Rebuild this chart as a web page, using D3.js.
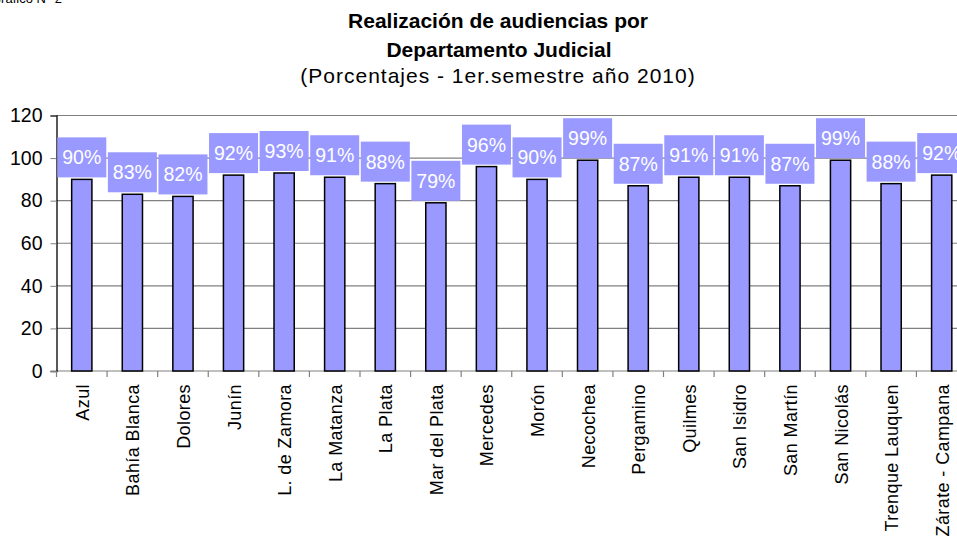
<!DOCTYPE html>
<html>
<head>
<meta charset="utf-8">
<script src="https://cdn.jsdelivr.net/npm/d3@7"></script>
<style>
  body { margin: 0; background: #fff; }
  svg { font-family: "Liberation Sans", Arial, sans-serif; }
</style>
</head>
<body>
<div id="chart"></div>
<script>
// data
var departamentos = ["Azul", "Bahía Blanca", "Dolores", "Junín", "L. de Zamora", "La Matanza",
    "La Plata", "Mar del Plata", "Mercedes", "Morón", "Necochea", "Pergamino", "Quilmes",
    "San Isidro", "San Martín", "San Nicolás", "Trenque Lauquen", "Zárate - Campana"];
var porcentajes = [90, 83, 82, 92, 93, 91, 88, 79, 96, 90, 99, 87, 91, 91, 87, 99, 88, 92];
var yTicks = [0, 20, 40, 60, 80, 100, 120];

var svgWidth = 957;
var svgHeight = 537;
var margin = {top: 115.5, right: -10, bottom: 166, left: 56.5};
var chartWidth = svgWidth - margin.left - margin.right;
var chartHeight = svgHeight - margin.top - margin.bottom;

var svg = d3.select("#chart").append("svg")
    .attr("width", svgWidth)
    .attr("height", svgHeight);

// header
svg.append("text").attr("x", -9).attr("y", 3)
    .attr("font-size", "13px").text("Gráfico N° 2");
svg.append("text").attr("x", 498).attr("y", 28)
    .attr("text-anchor", "middle").attr("font-size", "21px").attr("font-weight", "bold")
    .text("Realización de audiencias por");
svg.append("text").attr("x", 499).attr("y", 56.5)
    .attr("text-anchor", "middle").attr("font-size", "21px").attr("font-weight", "bold")
    .text("Departamento Judicial");
svg.append("text").attr("x", 498).attr("y", 83)
    .attr("text-anchor", "middle").attr("font-size", "21px").attr("letter-spacing", "1px")
    .text("(Porcentajes - 1er.semestre año 2010)");

var chartGroup = svg.append("g")
    .attr("transform", `translate(${margin.left}, ${margin.top})`);

var xScale = d3.scaleBand()
    .domain(departamentos)
    .range([0, chartWidth])
    .paddingInner(0.6)
    .paddingOuter(0.3);

var yScale = d3.scaleLinear()
    .domain([0, 120])
    .range([chartHeight, 0]);

// gridlines
chartGroup.selectAll(".grid")
    .data(yTicks)
    .enter().append("line")
    .attr("x1", 0).attr("x2", chartWidth)
    .attr("y1", d => yScale(d)).attr("y2", d => yScale(d))
    .attr("stroke", "#808080").attr("stroke-width", 1.2);

// y axis
var yAxis = d3.axisLeft(yScale).tickValues(yTicks).tickSize(6).tickPadding(8);
var yG = chartGroup.append("g").call(yAxis);
yG.select(".domain").attr("stroke", "#000").attr("stroke-width", 1.3);
yG.selectAll(".tick line").attr("stroke", "#808080");
yG.selectAll("text").attr("font-size", "19.5px").attr("fill", "#000")
    .attr("font-family", "Liberation Sans, Arial, sans-serif");

// x axis ticks at category boundaries
var boundaries = d3.range(departamentos.length + 1).map(i => i * chartWidth / departamentos.length);
chartGroup.selectAll(".xtick")
    .data(boundaries)
    .enter().append("line")
    .attr("x1", d => d).attr("x2", d => d)
    .attr("y1", chartHeight).attr("y2", chartHeight + 6)
    .attr("stroke", "#808080").attr("stroke-width", 1.2);

// bars
chartGroup.selectAll(".bar")
    .data(departamentos)
    .enter().append("rect")
    .attr("x", d => xScale(d))
    .attr("y", (d, i) => yScale(porcentajes[i]))
    .attr("width", xScale.bandwidth())
    .attr("height", (d, i) => chartHeight - yScale(porcentajes[i]))
    .attr("fill", "#9999ff")
    .attr("stroke", "#000")
    .attr("stroke-width", 1.5);

// value labels
var boxW = 49, boxH = 40;
var labels = chartGroup.selectAll(".lbl")
    .data(departamentos)
    .enter().append("g")
    .attr("transform", (d, i) => `translate(${xScale(d) + xScale.bandwidth() / 2}, ${yScale(porcentajes[i]) - 2})`);
labels.append("rect")
    .attr("x", -boxW / 2).attr("y", -boxH)
    .attr("width", boxW).attr("height", boxH)
    .attr("fill", "#9999ff");
labels.append("text")
    .attr("y", -boxH / 2 + 7)
    .attr("text-anchor", "middle")
    .attr("font-size", "19.5px")
    .attr("fill", "#fff")
    .text((d, i) => porcentajes[i] + "%");

// category labels
chartGroup.selectAll(".cat")
    .data(departamentos)
    .enter().append("text")
    .attr("transform", d => `translate(${xScale(d) + xScale.bandwidth() / 2 + 7}, ${chartHeight + 13}) rotate(-90)`)
    .attr("text-anchor", "end")
    .attr("font-size", "18px")
    .attr("letter-spacing", "0.4px")
    .text(d => d);
</script>
</body>
</html>
